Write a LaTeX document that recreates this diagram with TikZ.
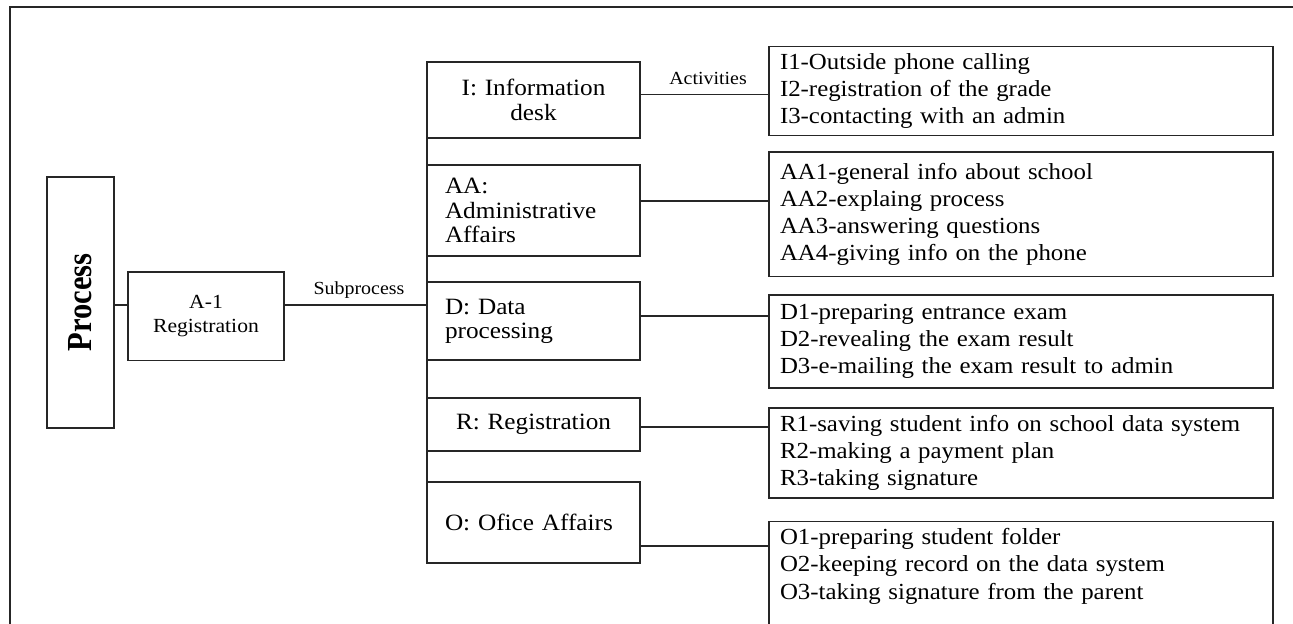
\documentclass[tikz,border=0pt]{standalone}
\usepackage{fontspec}
\setmainfont{Liberation Serif}[FakeStretch=1.08]
\newfontfamily\procfont{Liberation Serif}[FakeStretch=0.87]
\usepackage{tikz}
\usetikzlibrary{positioning,calc}
\tikzset{
  boxline/.style={draw=black!85, line width=0.8pt},
  prnode/.style={
    rectangle, boxline, outer sep=0pt, inner sep=0pt, align=center
  },
  subnode/.style={
    rectangle, boxline, outer sep=0pt, minimum width=4.26cm, text width=3.54cm,
    inner xsep=0.36cm, inner ysep=0pt, font=\fontsize{13.3}{13.8}\selectfont
  },
  actnode/.style={
    rectangle, boxline, outer sep=0pt, anchor=north west, minimum width=10.08cm,
    text width=9.64cm, inner xsep=0.22cm, inner ysep=0.14cm,
    align=left, font=\fontsize{13.1}{15.4}\selectfont
  },
  prline/.style={boxline},
  prlabel/.style={font=\fontsize{10.5}{12}\selectfont, inner sep=1pt},
}
\begin{document}
\begin{tikzpicture}[x=0.02cm, y=-0.02cm]
  \useasboundingbox (0,0) rectangle (1293,624);
  \clip (0,0) rectangle (1293,624);
  % outer frame
  \draw[boxline] (10,7) rectangle (1330,660);

  \node (proc) [prnode, rotate=90, minimum width=5.02cm, minimum height=1.34cm,
    font=\procfont\bfseries\fontsize{20}{22}\selectfont] at (80.5,302.5) {Process};
  \node (reg) [prnode, minimum width=3.12cm, minimum height=1.77cm,
    font=\fontsize{11.4}{13.7}\selectfont] at (206,316.3) {A-1\\Registration};

  % subprocesses
  \node (boxi) [subnode, align=center, minimum height=1.52cm] at (533.5,100) {I: Information\\desk};
  \node (boxaa) [subnode, align=left, minimum height=1.82cm] at (533.5,210.5) {AA:\\Administrative\\Affairs};
  \node (boxd) [subnode, align=left, minimum height=1.56cm] at (533.5,321) {D: Data\\processing};
  \node (boxr) [subnode, align=center, minimum height=1.06cm] at (533.5,424.5) {R: Registration};
  \node (boxo) [subnode, align=left, minimum height=1.62cm] at (533.5,522.5) {O: Ofice Affairs};

  % activities
  \node (acti) [actnode, minimum height=1.77cm] at (769,46.7)
    {I1-Outside phone calling\\I2-registration of the grade\\I3-contacting with an admin};
  \node (actaa) [actnode, minimum height=2.49cm] at (769,152)
    {AA1-general info about school\\AA2-explaing process\\AA3-answering questions\\AA4-giving info on the phone};
  \node (actd) [actnode, minimum height=1.86cm] at (769,295)
    {D1-preparing entrance exam\\D2-revealing the exam result\\D3-e-mailing the exam result to admin};
  \node (actr) [actnode, minimum height=1.8cm] at (769,408)
    {R1-saving student info on school data system\\R2-making a payment plan\\R3-taking signature};
  \node (acto) [actnode] at (769,521.7)
    {O1-preparing student folder\\O2-keeping record on the data system\\O3-taking signature from the parent\\\mbox{}};

  \coordinate (sj) at (427,305);
  \draw[prline] (proc.south |- sj) -- (reg.west |- sj);
  \draw[prline] (reg.east |- sj) -- (sj);
  \draw[prline] (boxi.north west) -- (boxo.south west);
  \foreach \n/\s in {i/0.114, aa/0.19, d/0.1, r/-0.05, o/-0.47}
    \draw[prline] ([yshift=\s cm]box\n.east) -- ([yshift=\s cm]box\n.east -| act\n.west);

  \node[prlabel] at (359,290) {Subprocess};
  \node[prlabel] at (708,78) {Activities};
\end{tikzpicture}
\end{document}
